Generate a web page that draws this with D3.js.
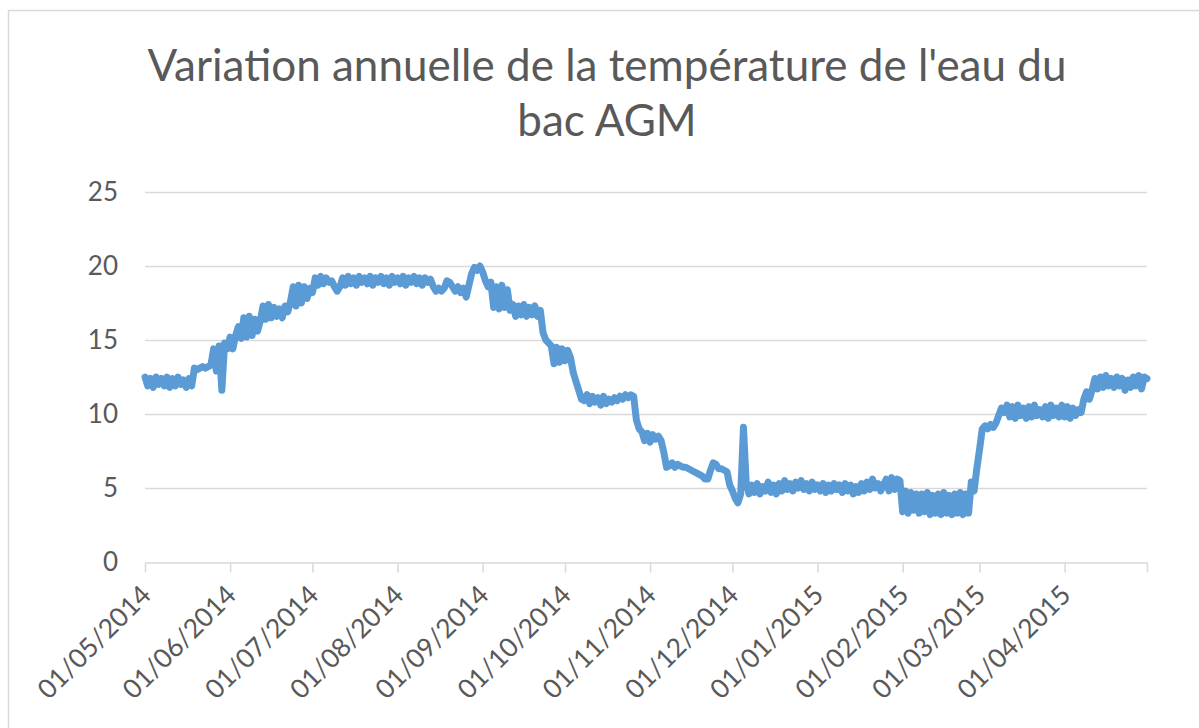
<!DOCTYPE html>
<html>
<head>
<meta charset="utf-8">
<script src="https://cdn.jsdelivr.net/npm/d3@7"></script>
<style>
  html, body { margin: 0; padding: 0; background: #ffffff; }
  svg { display: block; }
  text { font-family: Lato, "Open Sans", "DejaVu Sans", sans-serif; fill: #595959; }
</style>
</head>
<body>
<svg id="chart" width="1199" height="728"></svg>
<script>
// ---------- DATA ----------
const titleLines = ["Variation annuelle de la température de l'eau du", "bac AGM"];
const startDate = "2014-05-01";            // first reading
const yTicks = [0, 5, 10, 15, 20, 25];
const xTickDates = ["2014-05-01","2014-06-01","2014-07-01","2014-08-01","2014-09-01","2014-10-01",
  "2014-11-01","2014-12-01","2015-01-01","2015-02-01","2015-03-01","2015-04-01","2015-05-01"];
const xTickLabels = ["01/05/2014","01/06/2014","01/07/2014","01/08/2014","01/09/2014","01/10/2014",
  "01/11/2014","01/12/2014","01/01/2015","01/02/2015","01/03/2015","01/04/2015",""];

// daily water temperature (°C), one value per day from 01/05/2014
const temps = [
  12.5,11.9,12.4,11.8,12.5,12.0,12.4,11.9,12.5,11.8,
  12.4,11.9,12.5,12.0,12.3,11.8,12.4,11.9,
  13.1,13.0,13.1,13.2,13.1,13.2,
  13.3,14.4,12.9,14.6,11.6,14.8,14.4,
  15.2,14.4,15.3,15.9,
  15.1,16.5,15.2,16.6,15.3,16.4,15.6,
  16.3,17.3,16.4,17.4,16.5,17.2,16.6,17.1,16.5,17.3,16.9,
  17.6,18.6,17.3,18.7,17.5,18.6,17.8,18.5,18.2,
  19.2,18.7,19.3,18.8,19.2,18.9,19.0,
  18.6,18.3,18.6,
  19.2,18.7,19.3,18.8,19.2,18.7,19.3,18.9,19.2,18.8,
  19.3,18.7,19.2,18.9,19.3,18.8,19.2,18.7,19.3,18.9,
  19.2,18.8,19.3,18.7,19.2,18.9,19.3,18.8,19.2,18.7,
  19.2,18.9,19.1,
  18.6,18.3,18.5,18.3,18.5,
  19.0,18.9,
  18.6,18.3,18.6,18.2,18.5,
  17.9,18.7,
  19.5,19.9,19.7,20.0,19.6,
  19.0,18.6,18.9,
  17.2,18.6,17.1,18.7,17.2,18.4,17.0,
  17.4,16.6,17.3,16.7,17.4,16.6,17.2,16.7,17.3,16.6,17.0,
  15.5,15.0,14.8,
  14.6,13.4,14.5,13.5,14.4,13.6,14.3,13.8,
  12.8,12.2,
  11.6,11.0,10.9,
  11.3,10.7,11.2,10.8,11.1,10.6,11.2,10.7,11.0,10.8,
  11.1,10.9,11.2,11.0,11.3,11.1,11.3,11.2,
  9.6,9.0,
  8.8,8.2,8.7,8.1,8.6,8.3,8.5,8.2,
  7.4,6.4,
  6.5,6.7,6.4,6.6,6.5,6.4,
  6.4,6.3,6.2,6.1,6.0,5.9,5.8,5.6,5.6,
  6.2,6.7,6.6,6.3,
  6.3,6.2,6.1,
  5.2,4.8,4.3,4.0,4.6,
  9.1,
  5.4,4.6,5.2,4.7,5.3,4.6,5.1,4.8,5.4,4.7,
  5.2,4.6,5.3,4.8,5.5,4.9,5.3,4.8,5.4,5.0,
  5.5,4.9,5.3,4.8,5.4,4.9,5.2,4.8,5.3,4.7,
  5.2,4.8,5.3,4.9,
  5.2,4.7,5.3,4.8,5.2,4.6,5.1,4.7,5.3,4.8,
  5.4,4.9,5.6,5.0,5.3,4.8,5.2,
  5.6,4.8,5.7,4.9,5.6,5.5,
  3.4,4.8,3.3,4.7,3.5,4.6,
  3.3,4.6,3.4,4.7,3.2,4.5,3.3,4.6,3.2,4.7,
  3.3,4.5,3.2,4.6,3.3,4.7,3.2,4.6,3.3,
  5.4,4.8,
  6.3,7.6,9.0,
  9.2,9.0,9.3,9.1,9.4,
  9.9,10.4,10.1,
  10.6,9.8,10.5,9.7,10.6,9.9,10.4,9.7,10.5,9.8,
  10.6,9.9,10.3,9.8,10.5,9.7,10.6,9.9,10.4,9.8,
  10.6,9.8,10.5,9.7,10.4,9.9,10.3,10.1,
  11.0,11.5,11.0,11.6,
  12.4,11.7,12.5,11.8,12.6,11.9,12.4,11.8,12.5,11.9,
  12.4,11.6,12.3,11.8,12.5,11.9,12.6,11.7,12.5,12.4
];

// ---------- LAYOUT ----------
const svg = d3.select("#chart");
const parse = d3.timeParse("%Y-%m-%d");
const t0 = parse(startDate);
const data = temps.map((v, i) => ({ date: d3.timeDay.offset(t0, i), value: v }));

const plot = { left: 145, right: 1147, top: 192, bottom: 562 };

const x = d3.scaleTime()
  .domain([parse(xTickDates[0]), parse(xTickDates[xTickDates.length - 1])])
  .range([plot.left, plot.right]);
const y = d3.scaleLinear().domain([0, 25]).range([plot.bottom, plot.top]);

// chart area border (left & top visible)
svg.append("rect")
  .attr("x", 8.5).attr("y", 10.5)
  .attr("width", 1300).attr("height", 800)
  .attr("fill", "none").attr("stroke", "#d9d9d9").attr("stroke-width", 1.5);

// title
const title = svg.append("g");
titleLines.forEach((t, i) => {
  title.append("text")
    .attr("x", 607).attr("y", 81 + i * 55)
    .attr("text-anchor", "middle")
    .style("font-size", "44px")
    .text(t);
});

// horizontal gridlines
svg.append("g")
  .selectAll("line")
  .data(yTicks.filter(d => d > 0))
  .join("line")
  .attr("x1", plot.left).attr("x2", plot.right)
  .attr("y1", d => Math.round(y(d)) + 0.5).attr("y2", d => Math.round(y(d)) + 0.5)
  .attr("stroke", "#d9d9d9").attr("stroke-width", 1.5);

// y axis labels
const yAxis = d3.axisLeft(y).tickValues(yTicks).tickSize(0).tickPadding(27);
const gy = svg.append("g").attr("transform", `translate(${plot.left},0)`).call(yAxis);
gy.select(".domain").remove();
gy.selectAll("text").style("font-size", "26px").attr("fill", "#595959")
  .attr("font-family", null);

// x axis
const xAxis = d3.axisBottom(x)
  .tickValues(xTickDates.map(parse))
  .tickFormat((d, i) => xTickLabels[i])
  .tickSizeInner(10).tickSizeOuter(0).tickPadding(6);
const gx = svg.append("g").attr("transform", `translate(0,${Math.round(plot.bottom) + 0.5})`).call(xAxis);
gx.select(".domain").attr("stroke", "#d9d9d9").attr("stroke-width", 1.5);
gx.selectAll(".tick line").attr("stroke", "#d9d9d9").attr("stroke-width", 1.5);
gx.selectAll("text")
  .attr("font-family", null)
  .style("font-size", "26.5px")
  .attr("fill", "#595959")
  .attr("text-anchor", "end")
  .attr("dy", "0.7em")
  .attr("transform", "translate(-6,21) rotate(-45)")
  .attr("y", 0).attr("x", 0);

// line
const line = d3.line().x(d => x(d.date)).y(d => y(d.value)).curve(d3.curveLinear);
svg.append("path")
  .datum(data)
  .attr("d", line)
  .attr("fill", "none")
  .attr("stroke", "#5b9bd5")
  .attr("stroke-width", 7)
  .attr("stroke-linejoin", "round")
  .attr("stroke-linecap", "round");
</script>
</body>
</html>
